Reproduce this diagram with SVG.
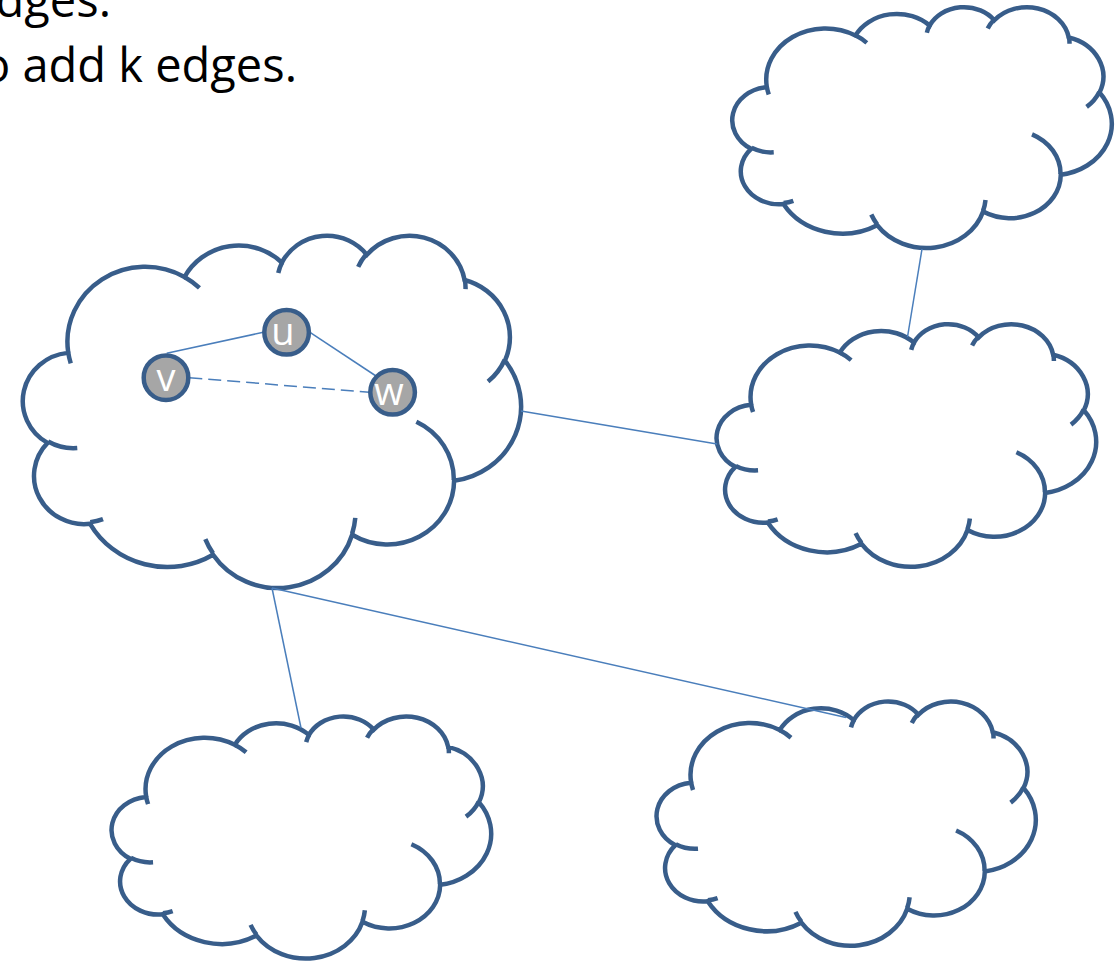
<svg xmlns="http://www.w3.org/2000/svg" xmlns:xlink="http://www.w3.org/1999/xlink" width="1120" height="963" viewBox="0 0 1120 963">
  <style>
    .cloud-body { fill: #ffffff; stroke: #385D8A; stroke-width: 4.5; vector-effect: non-scaling-stroke; }
    .cloud-trim { fill: none; stroke: #385D8A; stroke-width: 4.5; vector-effect: non-scaling-stroke; }
    .edge { fill: none; stroke: #4A7EBB; stroke-width: 1.5; }
    .edge-dashed { stroke-dasharray: 13 6; }
    .vertex { fill: #A6A6A6; stroke: #385D8A; stroke-width: 4.5; }
    .vertex-label { fill: #ffffff; font-family: "Open Sans", "Liberation Sans", sans-serif; font-size: 38px; text-anchor: middle; }
    .caption { fill: #000000; font-family: "Open Sans", "Liberation Sans", sans-serif; font-size: 47px; text-anchor: end; }
  </style>
  <defs>
    <!-- cloud outline in a 432 x 432 unit box, scaled per instance -->
    <g id="cloudShape">
      <path class="cloud-body" d="M39 143.7A67.53 91.9 0 0 1 140.05 52.02A53.33 72.67 0 0 1 224.55 34.31A43.65 59.45 0 0 1 298.33 24.79A48.57 65.95 0 0 1 383.18 55.74A53.33 72.73 0 0 1 418.19 154.58A67.75 92.2 0 0 1 374.04 302A57.85 78.67 0 0 1 285.56 368.1A67.52 92.15 0 0 1 164.81 392.64A77.2 105.43 0 0 1 58.05 354.71A43.6 59.18 0 0 1 21.13 255.51A43.45 59.45 0 0 1 38.62 145.07Z"/>
      <path class="cloud-trim" d="M46.93 261.77A43.45 59.45 0 0 1 21.6 253.8M69.28 348.99A43.6 59.18 0 0 1 58.2 352.8M164.78 390.9A67.52 92.15 0 0 1 158.09 373.47M288.27 347.51A67.52 92.15 0 0 1 285.6 366.6M341.29 229.54A57.85 78.67 0 0 1 373.81 300.9M417.98 153.54A53.33 72.73 0 0 1 403.5 180.31M383.24 54.26A48.57 65.95 0 0 1 384 66.9M290.78 39.52A48.57 65.95 0 0 1 298.2 23.4M221.41 47.2A43.65 59.45 0 0 1 225 33.31M140 51.92A67.53 91.9 0 0 1 153 65.41M41.27 157.89A67.53 91.9 0 0 1 39 143.71"/>
    </g>
  </defs>

  <rect x="0" y="0" width="1120" height="963" fill="#ffffff"/>

  <!-- caption lines, running off the top-left edge -->
  <text class="caption" x="111" y="17">dges.</text>
  <text class="caption" x="297" y="82">o add k edges.</text>

  <!-- clusters -->
  <g id="cloud-main">
    <use href="#cloudShape" xlink:href="#cloudShape" transform="translate(23.2 234.6) scale(1.152 0.8153)"/>
  </g>
  <g id="cloud-top-right">
    <use href="#cloudShape" xlink:href="#cloudShape" transform="translate(732.55 6.42) scale(0.8775 0.5573)"/>
  </g>
  <g id="cloud-mid-right">
    <use href="#cloudShape" xlink:href="#cloudShape" transform="translate(716.85 323.4) scale(0.8777 0.5614)"/>
  </g>
  <g id="cloud-bottom-left">
    <use href="#cloudShape" xlink:href="#cloudShape" transform="translate(111.85 715.7) scale(0.8777 0.56)"/>
  </g>
  <g id="cloud-bottom-right">
    <use href="#cloudShape" xlink:href="#cloudShape" transform="translate(656.85 700.7) scale(0.8768 0.5654)"/>
  </g>

  <!-- links between clusters and between vertices -->
  <g id="connectors">
    <path class="edge" d="M521 411L717 444"/>
    <path class="edge" d="M922 249L907.5 337"/>
    <path class="edge" d="M272 588L301 728"/>
    <path class="edge" d="M272 588L846 717.5"/>
    <path class="edge" d="M166.7 353.3L263.3 332.3"/>
    <path class="edge" d="M310 332.3L376 376"/>
    <path class="edge edge-dashed" d="M189.3 377.7L369.3 392.3"/>
  </g>

  <!-- vertices -->
  <g id="vertex-u">
    <circle class="vertex" cx="286.6" cy="332.3" r="22.3"/>
    <text class="vertex-label" x="283" y="345">u</text>
  </g>
  <g id="vertex-v">
    <circle class="vertex" cx="166" cy="377.7" r="22.3"/>
    <text class="vertex-label" x="166" y="391">v</text>
  </g>
  <g id="vertex-w">
    <circle class="vertex" cx="392.6" cy="392.3" r="22.3"/>
    <text class="vertex-label" x="389" y="405">w</text>
  </g>
</svg>
